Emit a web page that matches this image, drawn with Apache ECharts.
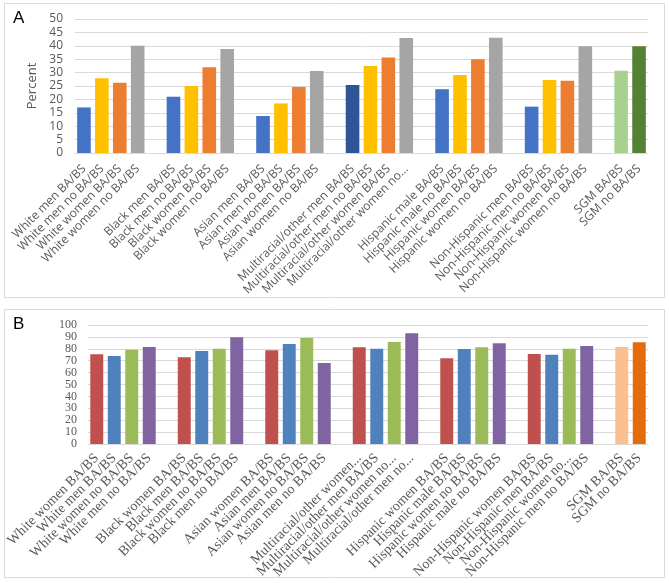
<!DOCTYPE html>
<html>
<head>
<meta charset="utf-8">
<script src="https://cdn.jsdelivr.net/npm/echarts@6/dist/echarts.min.js"></script>
<style>
html,body{margin:0;padding:0;background:#fff;}
#c{width:669px;height:583px;}
</style>
</head>
<body>
<div id="c"></div>
<script>
// Panel A: percent by group (blank strings are spacer categories)
var catsA = [
  "White men BA/BS","White men no BA/BS","White women BA/BS","White women no BA/BS","",
  "Black men BA/BS","Black men no BA/BS","Black women BA/BS","Black women no BA/BS","",
  "Asian men BA/BS","Asian men no BA/BS","Asian women BA/BS","Asian women no BA/BS","",
  "Multiracial/other men BA/BS","Multiracial/other men no BA/BS","Multiracial/other women BA/BS","Multiracial/other women no...","",
  "Hispanic male BA/BS","Hispanic male no BA/BS","Hispanic women BA/BS","Hispanic women no BA/BS","",
  "Non-Hispanic men BA/BS","Non-Hispanic men no BA/BS","Non-Hispanic women BA/BS","Non-Hispanic women no BA/BS","",
  "SGM BA/BS","SGM no BA/BS"
];
var valuesA = [
  17.0, 27.9, 26.2, 40.0, null,
  21.0, 25.0, 32.0, 38.8, null,
  13.8, 18.5, 24.6, 30.6, null,
  25.4, 32.5, 35.6, 42.9, null,
  23.8, 29.1, 35.0, 43.0, null,
  17.3, 27.2, 27.0, 39.8, null,
  30.7, 39.8
];
var ticksA = [0,5,10,15,20,25,30,35,40,45,50];

// Panel B
var catsB = [
  "White women BA/BS","White men BA/BS","White women no BA/BS","White men no BA/BS","",
  "Black women BA/BS","Black men BA/BS","Black women no BA/BS","Black men no BA/BS","",
  "Asian women BA/BS","Asian men BA/BS","Asian women no BA/BS","Asian men no BA/BS","",
  "Multiracial/other women...","Multiracial/other men BA/BS","Multiracial/other women no...","Multiracial/other men no...","",
  "Hispanic women BA/BS","Hispanic male BA/BS","Hispanic women no BA/BS","Hispanic male no BA/BS","",
  "Non-Hispanic women BA/BS","Non-Hispanic men BA/BS","Non-Hispanic women no...","Non-Hispanic men no BA/BS","",
  "SGM BA/BS","SGM no BA/BS"
];
var valuesB = [
  75.4, 74.0, 79.3, 81.5, null,
  72.8, 78.2, 80.1, 89.7, null,
  78.7, 84.0, 89.1, 68.1, null,
  81.3, 80.1, 85.7, 93.0, null,
  72.0, 79.8, 81.3, 84.6, null,
  75.6, 75.1, 80.1, 82.4, null,
  81.5, 85.5
];
var ticksB = [0,10,20,30,40,50,60,70,80,90,100];

// styles (kept separate from data)
var bA='#4472C4', yA='#FFC000', oA='#ED7D31', gA='#A5A5A5';
var colorsA = [bA,yA,oA,gA,null, bA,yA,oA,gA,null, bA,yA,oA,gA,null, '#2F5597',yA,oA,gA,null, bA,yA,oA,gA,null, bA,yA,oA,gA,null, '#A9D18E','#548235'];
var rB='#C0504D', uB='#4F81BD', nB='#9BBB59', pB='#8064A2';
var colorsB = [rB,uB,nB,pB,null, rB,uB,nB,pB,null, rB,uB,nB,pB,null, rB,uB,nB,pB,null, rB,uB,nB,pB,null, rB,uB,nB,pB,null, '#FAC090','#E46C0A'];

function items(vals, cols){
  return vals.map(function(v,i){ return v==null ? null : {value:v, itemStyle:{color:cols[i]}}; });
}

var chart = echarts.init(document.getElementById('c'), null, {renderer:'canvas'});
var sansA = "'Open Sans', 'Liberation Sans', sans-serif";
var serifB = "'Liberation Serif', 'DejaVu Serif', serif";
chart.setOption({
  animation:false,
  backgroundColor:'#fff',
  graphic:[
    {type:'rect', shape:{x:4.5,y:3.5,width:660,height:294}, style:{fill:'none',stroke:'#D9D9D9',lineWidth:1}},
    {type:'rect', shape:{x:4.5,y:309.5,width:660,height:268}, style:{fill:'none',stroke:'#D9D9D9',lineWidth:1}},
    {type:'text', left:13, top:10, style:{text:'A', font:"17px 'Liberation Sans', Arial, sans-serif", fill:'#000'}},
    {type:'text', left:13, top:316, style:{text:'B', font:"17px 'Liberation Sans', Arial, sans-serif", fill:'#000'}}
  ],
  grid:[
    {left:75, right:21, top:19, bottom:430, containLabel:false},
    {left:88, right:21, top:325, bottom:139, containLabel:false}
  ],
  xAxis:[
    {type:'category', gridIndex:0, data:catsA,
     axisLine:{lineStyle:{color:'#D9D9D9'}}, axisTick:{show:false},
     axisLabel:{interval:0, rotate:45, margin:14, fontSize:12, fontFamily:sansA, color:'#595959'}},
    {type:'category', gridIndex:1, data:catsB,
     axisLine:{lineStyle:{color:'#D9D9D9'}}, axisTick:{show:false},
     axisLabel:{interval:0, rotate:45, margin:12, fontSize:14, fontFamily:serifB, color:'#595959'}}
  ],
  yAxis:[
    {type:'value', gridIndex:0, min:ticksA[0], max:ticksA[ticksA.length-1], interval:5,
     name:'Percent', nameLocation:'middle', nameRotate:90, nameGap:35,
     nameTextStyle:{fontSize:13, fontFamily:sansA, color:'#595959'},
     axisLine:{show:false}, axisTick:{show:false},
     splitLine:{lineStyle:{color:'#D9D9D9'}},
     axisLabel:{margin:12, fontSize:12, fontFamily:sansA, color:'#595959', showMinLabel:true, showMaxLabel:true, hideOverlap:false}},
    {type:'value', gridIndex:1, min:ticksB[0], max:ticksB[ticksB.length-1], interval:10,
     axisLine:{show:false}, axisTick:{show:false},
     splitLine:{lineStyle:{color:'#D9D9D9'}},
     axisLabel:{margin:11, fontSize:12, fontFamily:serifB, color:'#595959', showMinLabel:true, showMaxLabel:true, hideOverlap:false}}
  ],
  series:[
    {type:'bar', xAxisIndex:0, yAxisIndex:0, data:items(valuesA, colorsA), barCategoryGap:'24%'},
    {type:'bar', xAxisIndex:1, yAxisIndex:1, data:items(valuesB, colorsB), barCategoryGap:'26%'}
  ]
});
</script>
</body>
</html>
